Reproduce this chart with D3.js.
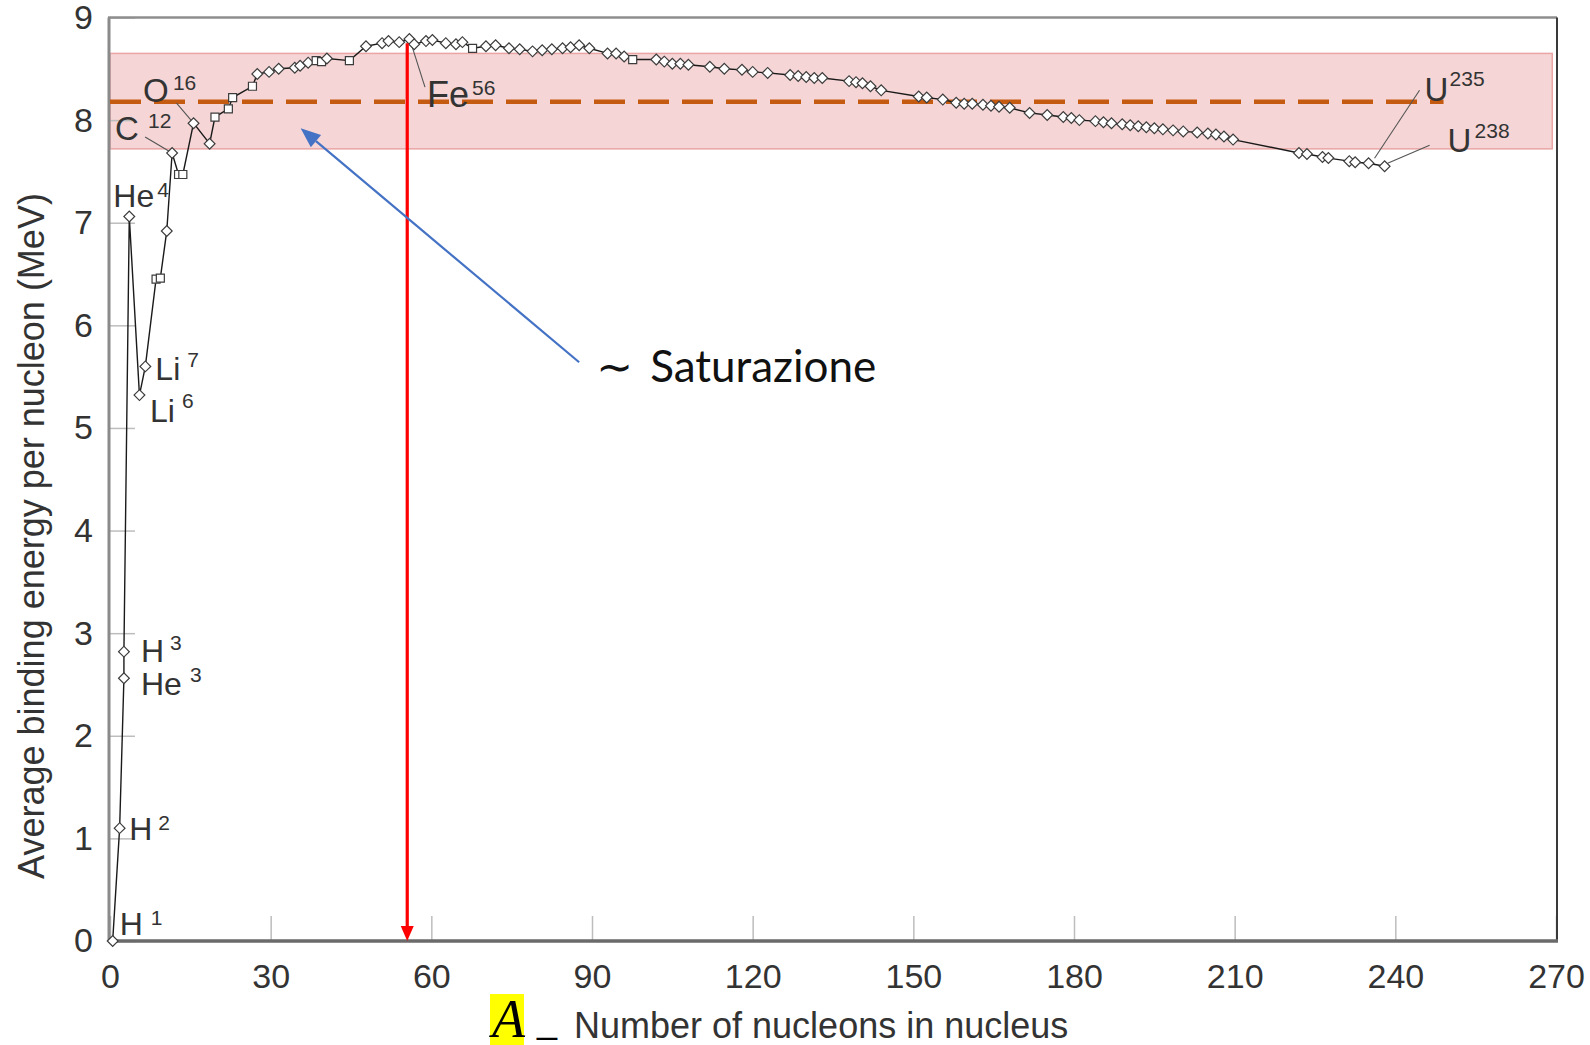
<!DOCTYPE html>
<html><head><meta charset="utf-8">
<script src="https://cdn.jsdelivr.net/npm/d3@7"></script>
<style>body{margin:0;background:#fff}svg{display:block}</style>
</head><body>
<svg id="chart" width="1590" height="1045"></svg>
<script>
// ---------------- data ----------------
const massNumber = [0.5,1.8,2.6,2.6,3.6,5.5,6.6,8.6,9.4,10.6,11.6,12.8,13.6,15.6,18.6,19.6,22.1,22.9,26.6,27.5,29.7,31.5,34.5,35.5,37,38.5,39.5,40.5,44.7,47.8,50.8,52,54,55.9,56.8,59,60.2,62.7,64.6,65.8,67.7,70.2,72,74.5,76.5,78.9,80.7,82.5,84.5,86,87.6,89.5,92.9,94.5,96,97.6,102,103.5,105,106.5,108,112,114.7,118,120,122.8,127,128.5,130,131.5,133,138,139.3,140.5,142,144,151,152.5,155.5,158,159.5,161,163,164.5,166,168,171.7,175,178,179.5,181,184,185.5,187,189,190.5,192,193.5,195,196.6,198.5,200.4,203,205,206.5,208,209.7,222,223.5,226.4,227.5,231.4,232.5,235,238];
const bindingEnergy = [0,1.10,2.56,2.82,7.06,5.32,5.60,6.45,6.46,6.92,7.68,7.47,7.47,7.97,7.77,8.03,8.11,8.22,8.33,8.45,8.47,8.50,8.51,8.53,8.56,8.58,8.57,8.60,8.58,8.72,8.75,8.77,8.76,8.79,8.74,8.77,8.78,8.75,8.74,8.76,8.70,8.72,8.73,8.70,8.69,8.67,8.68,8.69,8.70,8.71,8.73,8.70,8.65,8.65,8.62,8.59,8.59,8.57,8.55,8.55,8.54,8.52,8.50,8.49,8.47,8.46,8.44,8.43,8.42,8.41,8.41,8.38,8.37,8.36,8.33,8.29,8.23,8.22,8.20,8.17,8.16,8.16,8.15,8.14,8.13,8.12,8.07,8.05,8.03,8.02,8.00,7.99,7.98,7.97,7.96,7.95,7.94,7.93,7.92,7.91,7.90,7.89,7.88,7.87,7.86,7.84,7.81,7.68,7.67,7.64,7.63,7.60,7.59,7.58,7.55];
const markerShape = ["d","d","d","d","d","d","d","s","s","d","d","s","s","d","d","s","s","s","s","d","d","d","d","d","d","s","s","d","s","d","d","d","d","d","d","d","d","d","d","d","s","d","d","d","d","d","d","d","d","d","d","d","d","d","d","s","d","d","d","d","d","d","d","d","d","d","d","d","d","d","d","d","d","d","d","d","d","d","d","d","d","d","d","d","d","d","d","d","d","d","d","d","d","d","d","d","d","d","d","d","d","d","d","d","d","d","d","d","d","d","d","d","d","d","d"];

const xTicks = [0,30,60,90,120,150,180,210,240,270];
const yTicks = [0,1,2,3,4,5,6,7,8,9];

const labelElement = ["H","H","H","He","He","Li","Li","C","O","Fe","U","U"];
const labelMass    = ["1","2","3","3","4","7","6","12","16","56","235","238"];
const labelAnchorA = [0.5,1.8,2.6,2.6,3.6,6.6,5.5,11.6,15.6,55.9,235,238];
const labelAnchorV = [0,1.10,2.82,2.56,7.06,5.60,5.32,7.68,7.97,8.79,7.58,7.55];
const labelHasLeader = [false,false,false,false,false,false,false,true,true,true,true,true];

const saturationLevel = 8.18;
const saturationEndA = 249;
const bandLow = 7.72, bandHigh = 8.65, bandEndA = 269.3;
const ironLineA = 55.5, ironLineTop = 8.75;
const arrowTail = [87.6, 5.64], arrowHead = [35.6, 7.92];
const annotationText = "Saturazione";
const xTitle = "Number of nucleons in nucleus";
const yTitle = "Average binding energy per nucleon (MeV)";

// ---------------- layout ----------------
const svg = d3.select("#chart");
const x = d3.scaleLinear().domain([0,270]).range([110,1556]);
const y = d3.scaleLinear().domain([0,9]).range([941,17.5]);
const FONT = "'Liberation Sans', Arial, sans-serif";

// band
svg.append("rect")
  .attr("x", x(0)).attr("y", y(bandHigh))
  .attr("width", x(bandEndA)-x(0)).attr("height", y(bandLow)-y(bandHigh))
  .attr("fill","#f5d5d5").attr("stroke","#eaa5a5").attr("stroke-width",1.5);

// axes (ticks inside)
const xAxis = svg.append("g").attr("transform",`translate(0,${y(0)})`)
  .call(d3.axisBottom(x).tickValues(xTicks).tickSize(-25).tickPadding(23));
const yAxis = svg.append("g").attr("transform",`translate(${x(0)},0)`)
  .call(d3.axisLeft(y).tickValues(yTicks).tickSize(-25).tickPadding(17));
[xAxis,yAxis].forEach(g=>{
  g.select(".domain").remove();
  g.selectAll(".tick line").attr("stroke","#bdbdbd").attr("stroke-width",1.5);
  g.selectAll(".tick text").attr("font-family",FONT).attr("font-size",34).attr("fill","#333");
});

// frame
const fr = svg.append("g");
fr.append("line").attr("x1",x(0)-1).attr("x2",x(0)-1).attr("y1",y(9)).attr("y2",y(0)).attr("stroke","#8a8a8a").attr("stroke-width",3);
fr.append("line").attr("x1",x(0)-2).attr("x2",x(270)+1).attr("y1",y(9)).attr("y2",y(9)).attr("stroke","#8e8e8e").attr("stroke-width",2.5);
fr.append("line").attr("x1",x(270)+1).attr("x2",x(270)+1).attr("y1",y(9)).attr("y2",y(0)).attr("stroke","#3a3a3a").attr("stroke-width",2);
fr.append("line").attr("x1",x(0)-2).attr("x2",x(270)+2).attr("y1",y(0)).attr("y2",y(0)).attr("stroke","#6a6a6a").attr("stroke-width",3.5);

// saturation dashed line
svg.append("line").attr("x1",x(0)).attr("x2",x(saturationEndA))
  .attr("y1",y(saturationLevel)).attr("y2",y(saturationLevel))
  .attr("stroke","#c55a11").attr("stroke-width",4.5).attr("stroke-dasharray","31 13");

// curve
const pts = massNumber.map((a,i)=>({a, v:bindingEnergy[i], s:markerShape[i]}));
svg.append("path").datum(pts)
  .attr("d", d3.line().x(d=>x(d.a)).y(d=>y(d.v)))
  .attr("fill","none").attr("stroke","#1a1a1a").attr("stroke-width",1.4);

// leader lines
const lg = svg.append("g").attr("stroke","#555").attr("stroke-width",1.1);
const leaderOffsets = {7:[-27,-16,0,0],8:[-17,-20,0,0],9:[15.6,48,1,2],10:[51,-73,6,-5],11:[45,-21,3,-3]};
labelElement.forEach((e,i)=>{
  if(!labelHasLeader[i]) return;
  const o = leaderOffsets[i], ax=x(labelAnchorA[i]), ay=y(labelAnchorV[i]);
  lg.append("line").attr("x1",ax+o[0]).attr("y1",ay+o[1]).attr("x2",ax+o[2]).attr("y2",ay+o[3]);
});

// markers
const sym = d3.symbol().type(d3.symbolSquare);
svg.append("g").selectAll("path").data(pts).join("path")
  .attr("d", d=> sym.size(d.s==="s"?64:58)())
  .attr("transform", d=>`translate(${x(d.a)},${y(d.v)})` + (d.s==="d"?" rotate(45)":""))
  .attr("fill","#fff").attr("stroke","#3c3c3c").attr("stroke-width",1.2);

// isotope labels: [dx,dy of main glyph baseline-left, sup dx, sup dy]
const labelLayout = [
  [7,-6,31,-10],[9.5,12,29,-10],[17,10,29,-12],[17,17,49,-13],
  [-16,-10,44,-10],[10,14,32,-13],[10.5,26.5,32,-14],
  [-57,-13,33,-12],[-50.6,-21,30,-12],[17.6,68,45,-12],[56,-62,25,-15],[63,-14,27,-14]
];
const lab = svg.append("g").attr("font-family",FONT).attr("fill","#333");
labelElement.forEach((e,i)=>{
  const L = labelLayout[i], ax=x(labelAnchorA[i]), ay=y(labelAnchorV[i]);
  const big = (i===9)?36:(i>=7?33:32);
  lab.append("text").attr("x",ax+L[0]).attr("y",ay+L[1]).attr("font-size",big).text(e);
  lab.append("text").attr("x",ax+L[0]+L[2]).attr("y",ay+L[1]+L[3]).attr("font-size",21).text(labelMass[i]);
});

// red vertical arrow
const rx = x(ironLineA);
svg.append("line").attr("x1",rx).attr("x2",rx).attr("y1",y(ironLineTop)).attr("y2",y(0)-12)
  .attr("stroke","#ff0000").attr("stroke-width",3.2);
svg.append("path").attr("d",`M${rx-6.5},${y(0)-15} L${rx+6.5},${y(0)-15} L${rx},${y(0)} Z`).attr("fill","#ff0000");

// blue arrow
const tx=x(arrowTail[0]), ty=y(arrowTail[1]), hx=x(arrowHead[0]), hy=y(arrowHead[1]);
const ang = Math.atan2(hy-ty, hx-tx), hl=20, hw=8;
const bx = hx - hl*Math.cos(ang), by = hy - hl*Math.sin(ang);
svg.append("line").attr("x1",tx).attr("y1",ty).attr("x2",bx).attr("y2",by).attr("stroke","#4472c4").attr("stroke-width",2.2);
svg.append("path").attr("d",`M${hx},${hy} L${bx+hw*Math.sin(ang)},${by-hw*Math.cos(ang)} L${bx-hw*Math.sin(ang)},${by+hw*Math.cos(ang)} Z`).attr("fill","#4472c4");

// Saturazione annotation
svg.append("text").attr("x",tx+17).attr("y",ty+20).attr("font-family","'DejaVu Sans', sans-serif").attr("font-size",44).attr("fill","#111").text("∼");
svg.append("text").attr("x",tx+71).attr("y",ty+20).attr("font-family","Lato, 'Open Sans', sans-serif").attr("font-size",44).attr("fill","#111").text(annotationText);

// axis titles
svg.append("text").attr("transform","translate(44,536) rotate(-90)").attr("text-anchor","middle")
  .attr("font-family",FONT).attr("font-size",36).attr("fill","#333").text(yTitle);
svg.append("rect").attr("x",490).attr("y",994).attr("width",34).attr("height",51).attr("fill","#ffff00");
svg.append("text").attr("x",492).attr("y",1037).attr("font-family","'Liberation Serif', 'Times New Roman', serif")
  .attr("font-style","italic").attr("font-size",54).attr("fill","#000").text("A");
svg.append("text").attr("x",537).attr("y",1033).attr("font-family",FONT).attr("font-size",36).attr("fill","#000").text("_");
svg.append("text").attr("x",574).attr("y",1038).attr("font-family",FONT).attr("font-size",36).attr("fill","#333").text(xTitle);
</script>
</body></html>
